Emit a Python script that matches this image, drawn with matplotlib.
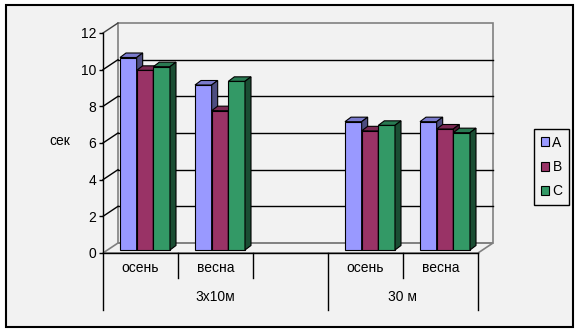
import matplotlib
matplotlib.use("Agg")
import matplotlib.pyplot as plt
from matplotlib.patches import Polygon, Rectangle
import numpy as np

plt.rcParams['font.family'] = ['Liberation Sans', 'DejaVu Sans']

# ---- data ----
categories = ["осень", "весна", "", "осень", "весна"]
groups = ["3х10м", "30 м"]
group_spans = [(0, 3), (3, 5)]
series_names = ["A", "B", "C"]
values_A = [10.5, 9.0, None, 7.0, 7.0]
values_B = [9.8, 7.6, None, 6.5, 6.6]
values_C = [10.0, 9.2, None, 6.8, 6.4]
series_values = [values_A, values_B, values_C]
face_colors = ["#9999ff", "#993366", "#339966"]
y_ticks = [0, 2, 4, 6, 8, 10, 12]
y_label = "сек"

W, H = 580, 333
fig = plt.figure(figsize=(W / 100, H / 100), dpi=100, facecolor="white")

# chart border / background
bg = "#f2f2f2"
fig.patches.append(Rectangle((6 / W, 1 - 327 / H), (573 - 6) / W, (327 - 5) / H,
                             transform=fig.transFigure, facecolor=bg,
                             edgecolor="black", linewidth=1.5, zorder=-5))

# front plane axes: x 103..478 px, y 253 (0) .. 33 (12)
ax = fig.add_axes([103 / W, 1 - 253 / H, 375 / W, 220 / H])
ax.set_zorder(1)
ax.set_xlim(0, 5)
ax.set_ylim(0, 12)
ax.patch.set_visible(False)
for s in ["top", "right", "left", "bottom"]:
    ax.spines[s].set_visible(False)

px_x = 5 / 375.0      # data units per pixel (x)
px_y = 12 / 220.0     # data units per pixel (y)

DX, DY = 15 * px_x, 10 * px_y          # full depth offset
BDX, BDY = 4.5 * px_x, 3 * px_y        # bar front-face offset
BDEPX, BDEPY = 6 * px_x, 4.5 * px_y    # bar depth

gray = "#808080"
# back wall
ax.add_patch(Rectangle((DX, DY), 5, 12, facecolor="none", edgecolor=gray,
                       linewidth=1.2, zorder=1, clip_on=False))
# floor
ax.add_patch(Polygon([(0, 0), (5, 0), (5 + DX, DY), (DX, DY)], closed=True,
                     facecolor="none", edgecolor=gray, linewidth=1.2, zorder=1,
                     clip_on=False))
# gridlines
for v in y_ticks[1:]:
    col = "black" if v < 12 else "#404040"
    ax.plot([0, DX], [v, v + DY], color=col, linewidth=1, zorder=1.5, clip_on=False)
    if v < 12:
        ax.plot([DX, 5 + DX], [v + DY, v + DY], color="black", linewidth=1,
                zorder=1.5, clip_on=False)

# axes lines
ax.plot([0, 0], [-57 * px_y, 12], color="black", linewidth=1, zorder=2, clip_on=False)
ax.plot([0, 5], [0, 0], color="black", linewidth=1, zorder=2, clip_on=False)

ax.set_yticks(y_ticks)
ax.set_yticklabels([str(t) for t in y_ticks], fontsize=10)
ax.tick_params(axis="y", length=3, width=1, pad=2, direction="out")
ax.set_xticks([])

# bars
w = (50 / 75) / 3
zo = 3
for i, (vals, fc) in enumerate(zip(series_values, face_colors)):
    rgb = np.array(matplotlib.colors.to_rgb(fc))
    top_c = rgb * 0.8
    side_c = rgb * 0.5
    for j, v in enumerate(vals):
        if v is None:
            continue
        z = zo + j * 0.01 + i * 0.003
        x0 = j + 0.5 - 1.5 * w + i * w + BDX
        b0 = BDY
        t0 = BDY + v
        ax.bar(x0, v, width=w, bottom=b0, align="edge", color=fc,
               edgecolor="black", linewidth=0.8, zorder=z, clip_on=False)
        ax.add_patch(Polygon([(x0, t0), (x0 + w, t0), (x0 + w + BDEPX, t0 + BDEPY),
                              (x0 + BDEPX, t0 + BDEPY)], closed=True, facecolor=top_c,
                             edgecolor="black", linewidth=0.8, zorder=z, clip_on=False))
        ax.add_patch(Polygon([(x0 + w, b0), (x0 + w + BDEPX, b0 + BDEPY),
                              (x0 + w + BDEPX, t0 + BDEPY), (x0 + w, t0)], closed=True,
                             facecolor=side_c, edgecolor="black", linewidth=0.8,
                             zorder=z, clip_on=False))

# category labels & separators
y_cat = -15 * px_y
y_grp = -44 * px_y
y_short = -25 * px_y
y_long = -57 * px_y
edges = set([s for s, e in group_spans] + [e for s, e in group_spans])
for j, c in enumerate(categories):
    ax.text(j + 0.5, y_cat, c, ha="center", va="center", fontsize=10, clip_on=False)
for k in range(1, 5):
    if k in edges:
        continue
    ax.plot([k, k], [0, y_short], color="black", linewidth=1, clip_on=False)
for (s, e), g in zip(group_spans, groups):
    ax.plot([e, e], [0, y_long], color="black", linewidth=1, clip_on=False)
    ax.text((s + e) / 2, y_grp, g, ha="center", va="center", fontsize=10, clip_on=False)

fig.text(60 / W, 1 - 141 / H, y_label, ha="center", va="center", fontsize=10)

# legend
handles = [Rectangle((0, 0), 1, 1, facecolor=fc, edgecolor="black", linewidth=0.8)
           for fc in face_colors]
leg = fig.legend(handles, series_names, loc="center",
                 bbox_to_anchor=(551.5 / W, 1 - 167 / H), bbox_transform=fig.transFigure,
                 fontsize=10, frameon=True, fancybox=False, edgecolor="black",
                 facecolor=bg, framealpha=1, handlelength=0.6, handleheight=0.6,
                 handletextpad=0.25, labelspacing=0.75, borderpad=0.45, borderaxespad=0)
leg.get_frame().set_linewidth(1)

fig.savefig("out.png", dpi=100, facecolor="white")
